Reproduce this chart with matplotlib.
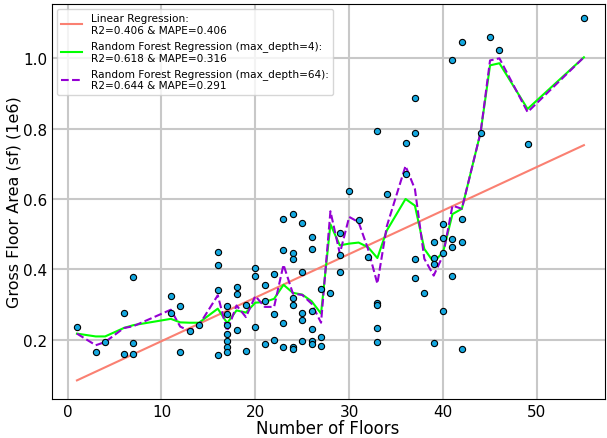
import numpy as np
import matplotlib
matplotlib.use('Agg')
import matplotlib.pyplot as plt

# observed buildings: floors and gross floor area (millions of sf)
floors = [1, 3, 4, 6, 6, 7, 7, 7, 11, 11, 12, 12, 13, 14,
          16, 16, 16, 16, 17, 17, 17, 17, 17, 17, 17,
          18, 18, 18, 19, 19, 20, 20, 20, 21, 21, 21, 22, 22, 22,
          23, 23, 23, 23, 24, 24, 24, 24, 24, 24, 24,
          25, 25, 25, 25, 25, 26, 26, 26, 26, 26, 26, 27, 27, 27, 28,
          29, 29, 29, 30, 31, 32, 33, 33, 33, 33, 33, 34,
          36, 36, 37, 37, 37, 37, 38, 39, 39, 39, 39, 40, 40, 40, 40,
          41, 41, 41, 41, 42, 42, 42, 42, 44, 45, 46, 49, 55]
area = [0.237, 0.165, 0.193, 0.276, 0.158, 0.377, 0.19, 0.159, 0.324, 0.276, 0.296, 0.166, 0.225, 0.241,
        0.45, 0.411, 0.342, 0.155, 0.296, 0.274, 0.241, 0.216, 0.196, 0.179, 0.164,
        0.351, 0.329, 0.228, 0.297, 0.167, 0.404, 0.381, 0.236, 0.356, 0.31, 0.188, 0.386, 0.272, 0.199,
        0.544, 0.455, 0.248, 0.178, 0.557, 0.447, 0.428, 0.319, 0.298, 0.178, 0.172,
        0.531, 0.391, 0.276, 0.257, 0.197, 0.492, 0.457, 0.28, 0.229, 0.196, 0.187, 0.343, 0.207, 0.182, 0.333,
        0.503, 0.44, 0.391, 0.622, 0.54, 0.436, 0.792, 0.303, 0.299, 0.234, 0.193, 0.615,
        0.759, 0.671, 0.887, 0.788, 0.428, 0.374, 0.332, 0.479, 0.433, 0.414, 0.189, 0.528, 0.489, 0.446, 0.28,
        0.995, 0.485, 0.462, 0.382, 1.047, 0.542, 0.479, 0.172, 0.787, 1.061, 1.024, 0.755, 1.114]

# model predictions at each distinct floor count
xfit = [1, 3, 4, 6, 7, 11, 12, 13, 14, 16, 17, 18, 19, 20, 21, 22, 23, 24, 25, 26,
        27, 28, 29, 30, 31, 32, 33, 34, 36, 37, 38, 39, 40, 41, 42, 44, 45, 46, 49, 55]
rf4 = [0.217, 0.209, 0.209, 0.233, 0.241, 0.259, 0.249, 0.248, 0.248, 0.288, 0.247, 0.283, 0.277, 0.305,
       0.307, 0.316, 0.356, 0.333, 0.328, 0.309, 0.274, 0.528, 0.468, 0.473, 0.476, 0.463, 0.432, 0.51,
       0.6, 0.581, 0.458, 0.42, 0.449, 0.557, 0.572, 0.79, 0.98, 0.986, 0.856, 1.003]
rf64 = [0.217, 0.184, 0.193, 0.233, 0.238, 0.285, 0.237, 0.224, 0.241, 0.326, 0.224, 0.297, 0.264, 0.324,
        0.293, 0.293, 0.413, 0.331, 0.327, 0.302, 0.248, 0.565, 0.445, 0.549, 0.534, 0.458, 0.359, 0.522,
        0.694, 0.628, 0.43, 0.382, 0.44, 0.581, 0.572, 0.79, 0.994, 1.0, 0.847, 1.003]
lin_coef = [0.01239, 0.0716]  # slope, intercept

fig, ax = plt.subplots(figsize=(6.07, 4.39), dpi=100)
plt.subplots_adjust(left=0.085, right=0.996, bottom=0.088, top=0.989)

xs = np.array(xfit)
ax.plot(xs, lin_coef[0] * xs + lin_coef[1], color='salmon', linewidth=1.5,
        label='Linear Regression:\nR2=0.406 & MAPE=0.406')
ax.plot(xfit, rf4, color='lime', linewidth=1.5,
        label='Random Forest Regression (max_depth=4):\nR2=0.618 & MAPE=0.316')
ax.plot(xfit, rf64, color='darkviolet', linewidth=1.5, linestyle='--',
        label='Random Forest Regression (max_depth=64):\nR2=0.644 & MAPE=0.291')
ax.scatter(floors, area, s=20, color='#14a8e0', edgecolors='black', linewidths=0.8, zorder=3)

ax.set_xlim(-1.7, 57.2)
ax.set_ylim(0.03, 1.155)
ax.grid(True, color='#c8c8c8', linewidth=1.5)
ax.set_axisbelow(True)
ax.tick_params(labelsize=11, length=0, pad=3)
ax.set_xlabel("Number of Floors", fontsize=12, labelpad=0)
ax.set_ylabel("Gross Floor Area (sf) (1e6)", fontsize=11.5, labelpad=1)
ax.legend(loc='upper left', fontsize=7.6)

plt.savefig('out.png')
